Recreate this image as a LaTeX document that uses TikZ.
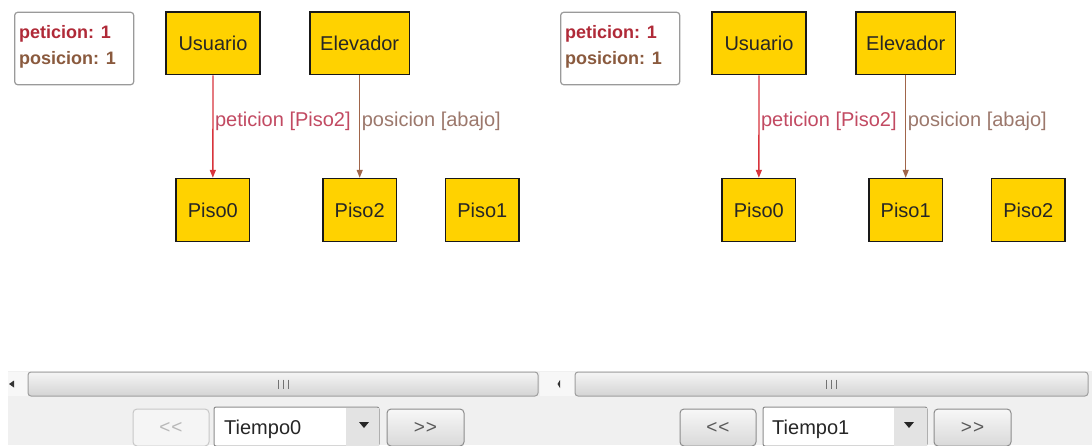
\documentclass[tikz,border=0pt]{standalone}
\usepackage{fontspec}
\setmainfont{Liberation Sans}
\usetikzlibrary{arrows.meta}

\definecolor{boxfill}{HTML}{FFD200}
\definecolor{reqred}{HTML}{D8343C}
\definecolor{posbrown}{HTML}{A0654A}
\definecolor{reqlabel}{HTML}{C24A62}
\definecolor{poslabel}{HTML}{9C786C}
\definecolor{legred}{HTML}{B02A38}
\definecolor{legbrown}{HTML}{8A5A3E}
\definecolor{panelgray}{HTML}{F0F0F0}
\definecolor{framegray}{HTML}{9A9A9A}

\tikzset{
  entity/.style={draw=black!90, line width=1.4pt, fill=boxfill, inner sep=0pt,
    minimum height=62.5pt, font=\fontsize{20}{24}\selectfont, text=black!85},
  legendbox/.style={draw=framegray, line width=1.2pt, rounded corners=3pt,
    fill=white, minimum width=119pt, minimum height=72.4pt, inner sep=0pt},
  legendtext/.style={anchor=west, inner sep=0pt, font=\fontsize{18}{22}\bfseries\selectfont},
  reqedge/.style={draw=reqred, line width=1.3pt, -{Triangle[length=8pt,width=6pt]}},
  posedge/.style={draw=posbrown, line width=1.3pt, -{Triangle[length=8pt,width=6pt]}},
  edgelabel/.style={anchor=west, inner sep=1.5pt, font=\fontsize{20}{24}\selectfont},
  track/.style={draw=black!38, line width=1pt, rounded corners=3pt,
    top color=white!96!black, bottom color=white!83!black},
  grip/.style={draw=black!55, line width=1pt},
  button/.style={draw=black!45, line width=1pt, rounded corners=4pt,
    top color=white!97!black, bottom color=white!85!black,
    text=black!65, font=\fontsize{19}{22}\selectfont, inner sep=0pt},
  buttonoff/.style={draw=black!22, line width=1pt, rounded corners=4pt,
    fill=white!96!black, text=black!28, font=\fontsize{19}{22}\selectfont, inner sep=0pt},
  combo/.style={draw=black!45, line width=1pt, rounded corners=2pt, fill=white, inner sep=0pt},
  combotext/.style={anchor=west, inner sep=0pt, text=black!85, font=\fontsize{20}{24}\selectfont},
}

% one time step of the elevator model: legend, entities and relations
\newcommand{\estado}[3]{%
  \node[legendbox] (#1leg) at (74.2,48.5) {};
  \node[legendtext, text=legred]   (#1legp) at (19,34) {peticion: 1};
  \node[legendtext, text=legbrown] (#1legq) at (19,60) {posicion: 1};
  \node[entity, minimum width=94pt]   (#1usr) at (213,43.4)  {Usuario};
  \node[entity, minimum width=99.5pt] (#1elv) at (359.7,43.4) {Elevador};
  \node[entity, minimum width=73.6pt, minimum height=63pt] (#1pa) at (212.8,210) {Piso0};
  \node[entity, minimum width=73.6pt, minimum height=63pt] (#1pb) at (359.7,210) {#2};
  \node[entity, minimum width=73.6pt, minimum height=63pt] (#1pc) at (482.3,210) {#3};
  \draw[reqedge] (#1usr) -- node[edgelabel, pos=0.45, text=reqlabel] (#1lreq) {peticion [Piso2]} (#1pa);
  \draw[posedge] (#1elv) -- node[edgelabel, pos=0.45, text=poslabel] (#1lpos) {posicion [abajo]} (#1pb);
}

\begin{document}
\begin{tikzpicture}[x=1pt,y=-1pt]
  \useasboundingbox (0,0) rectangle (1092,445);
  \fill[white] (0,0) rectangle (1092,445);
  % control strip behind the scroll bars and buttons
  \fill[panelgray] (8,371) rectangle (1092,445);

  % ---------- Tiempo0 ----------
  \estado{L}{Piso2}{Piso1}
  % ---------- Tiempo1 ----------
  \begin{scope}[xshift=546]
    \estado{R}{Piso1}{Piso2}
  \end{scope}

  % ---------- scroll bars ----------
  \fill[white!97!black] (8,372) rectangle (28,396);
  \fill[black!80] (9,384) -- (14,380.5) -- (14,387.5) -- cycle;
  \draw[track] (28,372) rectangle (538,396);
  \foreach \gx in {278.5,283.5,288.5} \draw[grip] (\gx,379.5) -- (\gx,388.5);

  \fill[white!97!black] (540,372) rectangle (575,396);
  \fill[black!80] (557.5,384) -- (560,380) -- (560,388) -- cycle;
  \draw[track] (575,372) rectangle (1088,396);
  \foreach \gx in {826.5,831.5,836.5} \draw[grip] (\gx,379.5) -- (\gx,388.5);

  % ---------- navigation: Tiempo0 ----------
  \node[buttonoff, minimum width=76pt, minimum height=37pt] (Lprev) at (171,427.5) {{<}\kern1pt{<}};
  \node[combo, minimum width=165pt, minimum height=39pt] (Lsel) at (296.5,426.5) {};
  \fill[white!89!black] ([xshift=-34pt,yshift=-1pt]Lsel.north east) rectangle ([xshift=-1pt,yshift=1pt]Lsel.south east);
  \fill[black!85] (359,422) -- (369,422) -- (364,428) -- cycle;
  \node[combotext] (Ltime) at (224,429) {Tiempo0};
  \node[button, minimum width=77pt, minimum height=37pt] (Lnext) at (425.5,427.5) {{>}\kern1pt{>}};

  % ---------- navigation: Tiempo1 ----------
  \node[button, minimum width=76pt, minimum height=37pt] (Rprev) at (718,427.5) {{<}\kern1pt{<}};
  \node[combo, minimum width=164pt, minimum height=39pt] (Rsel) at (845,426.5) {};
  \fill[white!89!black] ([xshift=-34pt,yshift=-1pt]Rsel.north east) rectangle ([xshift=-1pt,yshift=1pt]Rsel.south east);
  \fill[black!85] (904,422) -- (914,422) -- (909,428) -- cycle;
  \node[combotext] (Rtime) at (772,429) {Tiempo1};
  \node[button, minimum width=77pt, minimum height=37pt] (Rnext) at (972.5,427.5) {{>}\kern1pt{>}};
\end{tikzpicture}
\end{document}
